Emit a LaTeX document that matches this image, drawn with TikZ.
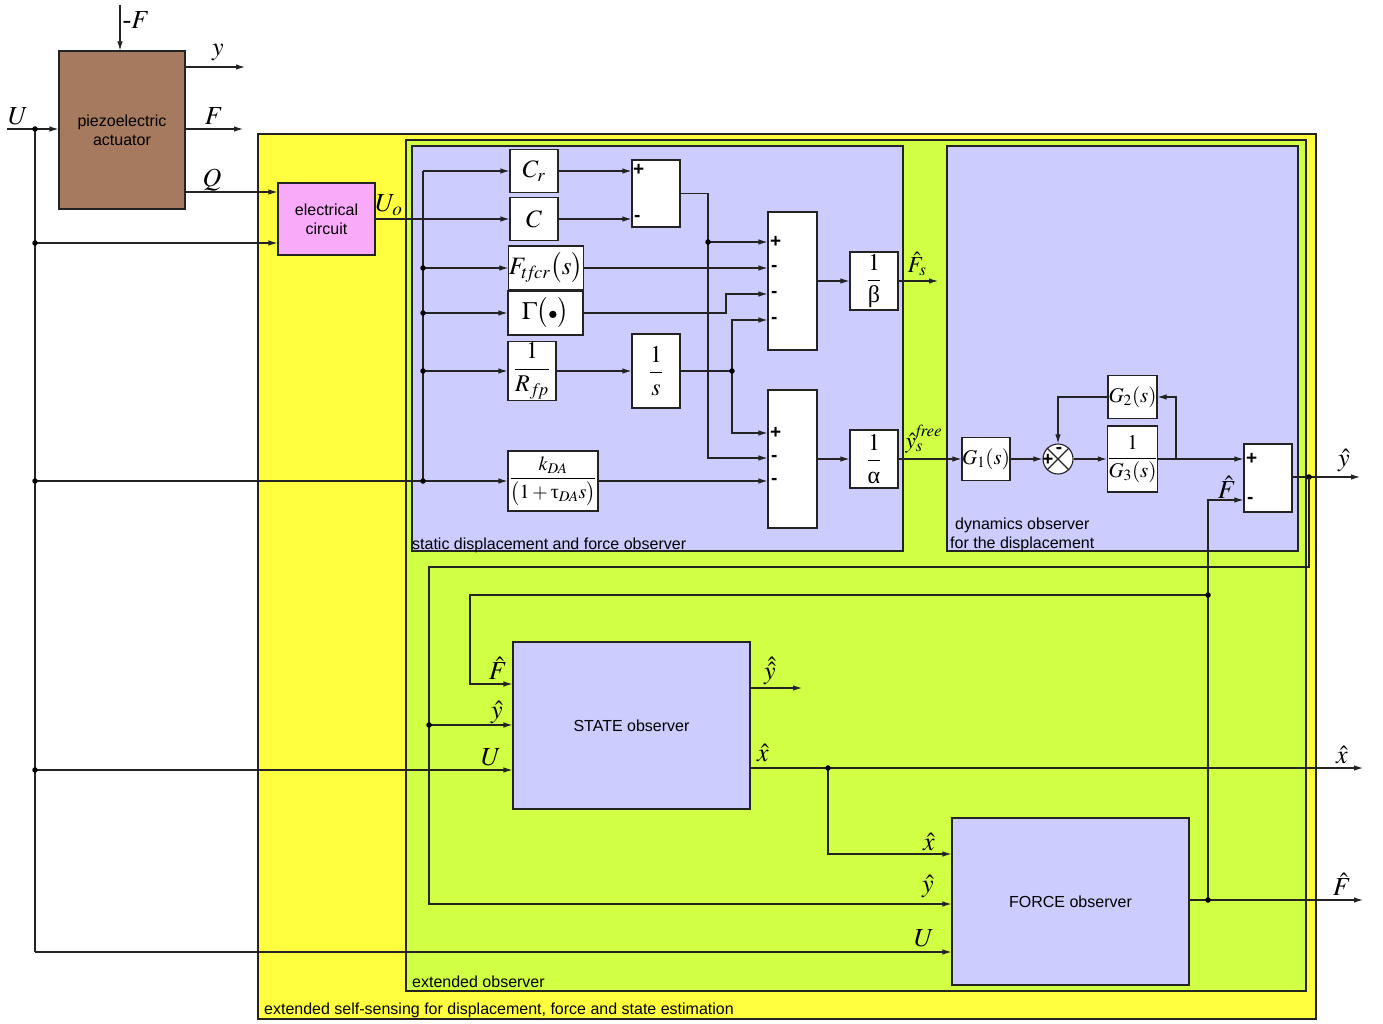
\documentclass[tikz,border=0pt]{standalone}
\usepackage{amsmath}
\usepackage{mathptmx}
\usepackage{fontspec}
\setmainfont{Liberation Serif}
\setsansfont{Liberation Sans}
\usetikzlibrary{arrows.meta,calc}
\definecolor{brownA}{RGB}{166,122,94}
\definecolor{pinkE}{RGB}{249,170,249}
\definecolor{yel}{RGB}{255,255,64}
\definecolor{grn}{RGB}{208,255,68}
\definecolor{lav}{RGB}{204,204,255}
\definecolor{ln}{RGB}{35,35,35}
\newcommand{\upg}[1]{\text{\normalfont #1}}
\begin{document}
\begin{tikzpicture}[x=1pt,y=-1pt,
  wire/.style={line width=1.1pt, draw=ln},
  arr/.style={wire, -{Latex[length=9pt,width=5.5pt]}},
  blk/.style={draw=ln, line width=1.1pt, fill=white, inner sep=0pt, font=\fontsize{25}{27}\selectfont},
  fblk/.style={blk, font=\fontsize{24}{26}\selectfont},
  big/.style={draw=ln, line width=1.1pt, fill=lav, inner sep=0pt, font=\sffamily\fontsize{16}{19}\selectfont, align=center},
  lab/.style={font=\fontsize{26}{28}\selectfont, inner sep=0pt},
  slab/.style={font=\fontsize{23}{25}\selectfont, inner sep=0pt},
  sgn/.style={font=\sffamily\bfseries\fontsize{19}{19}\selectfont, inner sep=0pt, anchor=west},
  dot/.style={circle, fill=black, inner sep=0pt, minimum size=5.5pt},
  ttl/.style={font=\sffamily\fontsize{16}{19}\selectfont, inner sep=0pt, anchor=base west},
  cont/.style={draw=ln, line width=1.1pt},
]
\useasboundingbox (0,0) rectangle (1383,1024);

% containers
\filldraw[cont, fill=yel] (258,134) rectangle (1316,1019);
\filldraw[cont, fill=grn] (406,140) rectangle (1306,991);
\filldraw[cont, fill=lav] (412,146) rectangle (903,551);
\filldraw[cont, fill=lav] (947,146) rectangle (1298,551);
\node[ttl] (t1) at (264,1014) {extended self-sensing for displacement, force and state estimation};
\node[ttl] (t2) at (412,987) {extended observer};
\node[ttl] (t3) at (412,549) {static displacement and force observer};
\node[ttl] (t4) at (955,529) {dynamics observer};
\node[ttl] (t5) at (950,548) {for the displacement};

% actuator and circuit
\node[big, fill=brownA, minimum width=126pt, minimum height=158pt] (pa) at (122,130) {piezoelectric\\actuator};
\node[big, fill=pinkE, minimum width=97pt, minimum height=72pt] (ec) at (326.5,219) {electrical\\circuit};

% static observer blocks
\node[blk, minimum width=48pt, minimum height=43pt] (cr) at (534,171) {$C_r$};
\node[blk, minimum width=48pt, minimum height=43pt] (c) at (534,219) {$C$};
\node[blk, minimum width=74pt, minimum height=44pt] (ftf) at (546,268) {$F_{t\!f\!cr}\bigl(s\bigr)$};
\node[blk, minimum width=75pt, minimum height=44pt] (gam) at (545.5,313) {$\Gamma\bigl(\scriptstyle\bullet\textstyle\bigr)$};
\node[fblk, minimum width=48pt, minimum height=59pt] (rfp) at (532,371) {$\dfrac{1}{R_{f\!p}}$};
\node[fblk, minimum width=48pt, minimum height=74pt] (inv) at (656,371) {$\dfrac{1}{s}$};
\node[fblk, font=\fontsize{20}{22}\selectfont, minimum width=90pt, minimum height=60pt] (kda) at (553,481) {$\dfrac{k_{DA}}{\bigl(1+\upg{τ}_{DA}s\bigr)}$};
\node[blk, minimum width=48pt, minimum height=67pt] (s1) at (656,193.5) {};
\node[blk, minimum width=49pt, minimum height=138pt] (s2) at (792.5,281) {};
\node[blk, minimum width=49pt, minimum height=138pt] (s3) at (792.5,459) {};
\node[fblk, minimum width=48pt, minimum height=58pt] (beta) at (874,281) {$\dfrac{1}{\upg{β}}$};
\node[fblk, minimum width=48pt, minimum height=58pt] (alpha) at (874,459) {$\dfrac{1}{\upg{α}}$};

% signs
\node[sgn] (p1) at (633,170) {+};
\node[sgn] (m1) at (634,218) {-};
\node[sgn] (p2) at (770,242) {+};
\node[sgn] (m2) at (771,268) {-};
\node[sgn] (m3) at (771,294) {-};
\node[sgn] (m4) at (771,320) {-};
\node[sgn] (p3) at (770,433) {+};
\node[sgn] (m5) at (771,458) {-};
\node[sgn] (m6) at (771,481) {-};

% dynamics observer blocks
\node[blk, font=\fontsize{21}{23}\selectfont, minimum width=48pt, minimum height=43pt] (g1) at (986,459) {$G_1(s)$};
\node[blk, font=\fontsize{21}{23}\selectfont, minimum width=49pt, minimum height=43pt] (g2) at (1132.5,397) {$G_2(s)$};
\node[blk, font=\fontsize{21}{23}\selectfont, minimum width=49pt, minimum height=66pt] (g3) at (1132.5,459) {$\dfrac{1}{G_3(s)}$};
\node[circle, draw=ln, line width=1.1pt, fill=white, minimum size=30pt, inner sep=0pt] (cs) at (1058,459) {};
\draw[wire] (cs.north east) -- (cs.south west) (cs.north west) -- (cs.south east);
\node[sgn, anchor=center] (cp) at (1048,460) {+};
\node[sgn, anchor=center] (cm) at (1059,450) {-};
\node[blk, minimum width=48pt, minimum height=68pt] (s4) at (1268,478) {};
\node[sgn] (p4) at (1246,459) {+};
\node[sgn] (m7) at (1247,500) {-};

% lower observers
\node[big, minimum width=237pt, minimum height=167pt] (so) at (631.5,725.5) {STATE observer};
\node[big, minimum width=237pt, minimum height=167pt] (fo) at (1070.5,901.5) {FORCE observer};

% coordinates
\coordinate (fin) at (120,5);
\coordinate (yo) at (245,67);
\coordinate (fo1) at (243,129);
\coordinate (uin) at (7,129);
\coordinate (ud) at (35,129);
\coordinate (u1) at (35,243);
\coordinate (u2) at (35,481);
\coordinate (u3) at (35,770);
\coordinate (u4) at (35,952);
\coordinate (b0) at (423,171);
\coordinate (b1) at (423,268);
\coordinate (b2) at (423,313);
\coordinate (b3) at (423,371);
\coordinate (b4) at (423,481);
\coordinate (j1) at (708,242);
\coordinate (j2) at (732,371);
\coordinate (fs) at (938,281);
\coordinate (jy) at (1309,477);
\coordinate (yout) at (1360,477);
\coordinate (jg) at (1176,459);
\coordinate (jy2) at (429,725);
\coordinate (jf) at (1208,900);
\coordinate (jf2) at (1208,595);
\coordinate (jx) at (828,768);
\coordinate (xout) at (1363,768);
\coordinate (fout) at (1363,900);
\coordinate (yy) at (802,688);

% actuator connections
\draw[arr] (fin) -- (fin |- pa.north);
\draw[arr] (pa.east |- yo) -- (yo);
\draw[arr] (pa.east |- fo1) -- (fo1);
\draw[arr] (pa.east |- 0,192) -- (ec.west |- 0,192);
\draw[arr] (uin) -- (pa.west |- uin);
\draw[wire] (ud) -- (u4);
\draw[arr] (u1) -- (ec.west |- u1);
\draw[arr] (u2) -- (kda.west |- u2);
\draw[arr] (u3) -- (so.west |- u3);
\draw[arr] (u4) -- (fo.west |- u4);
\foreach \p in {ud,u1,u2,u3} \node[dot] at (\p) {};

% static observer connections
\draw[arr] (ec.east |- c.west) -- (c.west);
\draw[wire] (b4) -- (b0);
\draw[arr] (b0) -- (cr.west);
\draw[arr] (b1) -- (ftf.west);
\draw[arr] (b2) -- (gam.west);
\draw[arr] (b3) -- (rfp.west);
\foreach \p in {b1,b2,b3,b4} \node[dot] at (\p) {};
\draw[arr] (cr.east) -- (s1.west |- cr.east);
\draw[arr] (c.east) -- (s1.west |- c.east);
\draw[arr] (s1.east) -- (708,193.5) -- (708,458) -- (s3.west |- 0,458);
\draw[arr] (j1) -- (s2.west |- j1);
\node[dot] at (j1) {};
\draw[arr] (ftf.east) -- (s2.west |- ftf.east);
\draw[arr] (gam.east) -- (726,313) -- (726,294) -- (s2.west |- 0,294);
\draw[arr] (rfp.east) -- (inv.west |- rfp.east);
\draw[wire] (inv.east) -- (j2);
\draw[arr] (j2) -- (732,320) -- (s2.west |- 0,320);
\draw[arr] (j2) -- (732,433) -- (s3.west |- 0,433);
\node[dot] at (j2) {};
\draw[arr] (kda.east) -- (s3.west |- kda.east);
\draw[arr] (s2.east) -- (beta.west);
\draw[arr] (beta.east) -- (fs);
\draw[arr] (s3.east) -- (alpha.west);
\draw[arr] (alpha.east) -- (g1.west);

% dynamics observer connections
\draw[arr] (g1.east) -- (cs.west);
\draw[arr] (cs.east) -- (g3.west);
\draw[arr] (g3.east) -- (s4.west |- g3.east);
\draw[arr] (jg) -- (jg |- g2.east) -- (g2.east);
\draw[arr] (g2.west) -- (cs.north |- g2.west) -- (cs.north);
\draw[arr] (s4.east |- jy) -- (yout);
\node[dot] at (jy) {};
\draw[arr] (jy) -- (1309,567) -- (429,567) -- (429,904) -- (fo.west |- 0,904);
\draw[arr] (jy2) -- (so.west |- jy2);
\node[dot] at (jy2) {};

% force / state connections
\draw[arr] (fo.east |- jf) -- (fout);
\draw[arr] (jf) -- (1208,500) -- (s4.west |- 0,500);
\node[dot] at (jf) {};
\draw[arr] (jf2) -- (470,595) -- (470,684) -- (so.west |- 0,684);
\node[dot] at (jf2) {};
\draw[arr] (so.east |- yy) -- (yy);
\draw[arr] (so.east |- xout) -- (xout);
\draw[arr] (jx) -- (828,854) -- (fo.west |- 0,854);
\node[dot] at (jx) {};

% labels
\node[lab] (lF) at (136,20) {-$F$};
\node[lab] (ly) at (218,53) {$y$};
\node[lab] (lF2) at (214,116) {$F$};
\node[lab] (lQ) at (212,180) {$Q$};
\node[lab] (lU) at (18,116) {$U$};
\node[lab] (lUo) at (389,205) {$U_o$};
\node[slab] (lFs) at (917,264) {$\hat{F}_s$};
\node[slab] (lys) at (924,439) {$\hat{y}_s^{\mathit{free}}$};
\node[lab] (lyh) at (1344,460) {$\hat{y}$};
\node[lab] (lFh) at (1227,487) {$\hat{F}$};
\node[lab] (lFS) at (498,668) {$\hat{F}$};
\node[lab] (lyS) at (497,712) {$\hat{y}$};
\node[lab] (lUS) at (491,757) {$U$};
\node[lab] (lyy) at (770,671) {$\hat{\hat{y}}$};
\node[lab] (lxS) at (763,753) {$\hat{x}$};
\node[lab] (lxo) at (1342,755) {$\hat{x}$};
\node[lab] (lxF) at (929,842) {$\hat{x}$};
\node[lab] (lyF) at (928,886) {$\hat{y}$};
\node[lab] (lUF) at (924,938) {$U$};
\node[lab] (lFo) at (1342,884) {$\hat{F}$};
\end{tikzpicture}
\end{document}
